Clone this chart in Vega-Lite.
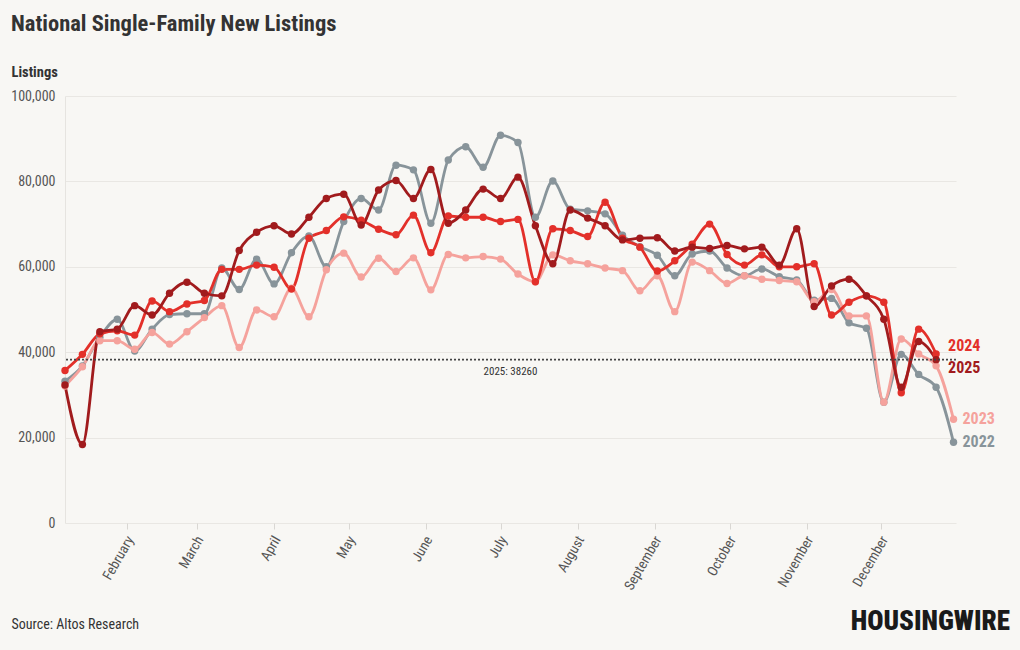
{
  "$schema": "https://vega.github.io/schema/vega-lite/v6.json",
  "width": 891,
  "height": 427,
  "autosize": {"type": "none"},
  "padding": {"left": 65, "top": 96, "right": 64, "bottom": 127},
  "background": "#f8f7f4",
  "title": {
    "text": "National Single-Family New Listings",
    "anchor": "start",
    "frame": "group",
    "dx": -54,
    "offset": 29,
    "fontSize": 22.5,
    "fontWeight": "bold",
    "color": "#333333"
  },
  "config": {
    "font": "Roboto Condensed, Liberation Sans Narrow, DejaVu Sans Condensed, Roboto, sans-serif",
    "view": {"stroke": null}
  },
  "data": {
    "values": [
      {"year":"2022","week":"2025-01-07","listings":33200},{"year":"2022","week":"2025-01-14","listings":36800},{"year":"2022","week":"2025-01-21","listings":43500},{"year":"2022","week":"2025-01-28","listings":47700},{"year":"2022","week":"2025-02-04","listings":40300},{"year":"2022","week":"2025-02-11","listings":45400},{"year":"2022","week":"2025-02-18","listings":48800},{"year":"2022","week":"2025-02-25","listings":49000},{"year":"2022","week":"2025-03-04","listings":49000},{"year":"2022","week":"2025-03-11","listings":59700},{"year":"2022","week":"2025-03-18","listings":54700},{"year":"2022","week":"2025-03-25","listings":61800},{"year":"2022","week":"2025-04-01","listings":56000},{"year":"2022","week":"2025-04-08","listings":63300},{"year":"2022","week":"2025-04-15","listings":67200},{"year":"2022","week":"2025-04-22","listings":60000},{"year":"2022","week":"2025-04-29","listings":70600},{"year":"2022","week":"2025-05-06","listings":76000},{"year":"2022","week":"2025-05-13","listings":73300},{"year":"2022","week":"2025-05-20","listings":83800},{"year":"2022","week":"2025-05-27","listings":82700},{"year":"2022","week":"2025-06-03","listings":70200},{"year":"2022","week":"2025-06-10","listings":85000},{"year":"2022","week":"2025-06-17","listings":88100},{"year":"2022","week":"2025-06-24","listings":83300},{"year":"2022","week":"2025-07-01","listings":90800},{"year":"2022","week":"2025-07-08","listings":89100},{"year":"2022","week":"2025-07-15","listings":71600},{"year":"2022","week":"2025-07-22","listings":80100},{"year":"2022","week":"2025-07-29","listings":73500},{"year":"2022","week":"2025-08-05","listings":73100},{"year":"2022","week":"2025-08-12","listings":72400},{"year":"2022","week":"2025-08-19","listings":67400},{"year":"2022","week":"2025-08-26","listings":64700},{"year":"2022","week":"2025-09-02","listings":62700},{"year":"2022","week":"2025-09-09","listings":57900},{"year":"2022","week":"2025-09-16","listings":63000},{"year":"2022","week":"2025-09-23","listings":63700},{"year":"2022","week":"2025-09-30","listings":59700},{"year":"2022","week":"2025-10-07","listings":57900},{"year":"2022","week":"2025-10-14","listings":59500},{"year":"2022","week":"2025-10-21","listings":57700},{"year":"2022","week":"2025-10-28","listings":56900},{"year":"2022","week":"2025-11-04","listings":52200},{"year":"2022","week":"2025-11-11","listings":52600},{"year":"2022","week":"2025-11-18","listings":46900},{"year":"2022","week":"2025-11-25","listings":45600},{"year":"2022","week":"2025-12-02","listings":28300},{"year":"2022","week":"2025-12-09","listings":39500},{"year":"2022","week":"2025-12-16","listings":34800},{"year":"2022","week":"2025-12-23","listings":31800},{"year":"2022","week":"2025-12-30","listings":18900},
      {"year":"2023","week":"2025-01-07","listings":32100},{"year":"2023","week":"2025-01-14","listings":36600},{"year":"2023","week":"2025-01-21","listings":42700},{"year":"2023","week":"2025-01-28","listings":42700},{"year":"2023","week":"2025-02-04","listings":40700},{"year":"2023","week":"2025-02-11","listings":44600},{"year":"2023","week":"2025-02-18","listings":41900},{"year":"2023","week":"2025-02-25","listings":44800},{"year":"2023","week":"2025-03-04","listings":48100},{"year":"2023","week":"2025-03-11","listings":50900},{"year":"2023","week":"2025-03-18","listings":41100},{"year":"2023","week":"2025-03-25","listings":49900},{"year":"2023","week":"2025-04-01","listings":48300},{"year":"2023","week":"2025-04-08","listings":55000},{"year":"2023","week":"2025-04-15","listings":48300},{"year":"2023","week":"2025-04-22","listings":59300},{"year":"2023","week":"2025-04-29","listings":63200},{"year":"2023","week":"2025-05-06","listings":57600},{"year":"2023","week":"2025-05-13","listings":62000},{"year":"2023","week":"2025-05-20","listings":58900},{"year":"2023","week":"2025-05-27","listings":62100},{"year":"2023","week":"2025-06-03","listings":54600},{"year":"2023","week":"2025-06-10","listings":62900},{"year":"2023","week":"2025-06-17","listings":62100},{"year":"2023","week":"2025-06-24","listings":62400},{"year":"2023","week":"2025-07-01","listings":61800},{"year":"2023","week":"2025-07-08","listings":58300},{"year":"2023","week":"2025-07-15","listings":56500},{"year":"2023","week":"2025-07-22","listings":62800},{"year":"2023","week":"2025-07-29","listings":61400},{"year":"2023","week":"2025-08-05","listings":60700},{"year":"2023","week":"2025-08-12","listings":59700},{"year":"2023","week":"2025-08-19","listings":59100},{"year":"2023","week":"2025-08-26","listings":54400},{"year":"2023","week":"2025-09-02","listings":57900},{"year":"2023","week":"2025-09-09","listings":49500},{"year":"2023","week":"2025-09-16","listings":61100},{"year":"2023","week":"2025-09-23","listings":59100},{"year":"2023","week":"2025-09-30","listings":56100},{"year":"2023","week":"2025-10-07","listings":57900},{"year":"2023","week":"2025-10-14","listings":57100},{"year":"2023","week":"2025-10-21","listings":56800},{"year":"2023","week":"2025-10-28","listings":56500},{"year":"2023","week":"2025-11-04","listings":51800},{"year":"2023","week":"2025-11-11","listings":54700},{"year":"2023","week":"2025-11-18","listings":48500},{"year":"2023","week":"2025-11-25","listings":48500},{"year":"2023","week":"2025-12-02","listings":28300},{"year":"2023","week":"2025-12-09","listings":43100},{"year":"2023","week":"2025-12-16","listings":39600},{"year":"2023","week":"2025-12-23","listings":36800},{"year":"2023","week":"2025-12-30","listings":24300},
      {"year":"2024","week":"2025-01-07","listings":35700},{"year":"2024","week":"2025-01-14","listings":39500},{"year":"2024","week":"2025-01-21","listings":44300},{"year":"2024","week":"2025-01-28","listings":45000},{"year":"2024","week":"2025-02-04","listings":44000},{"year":"2024","week":"2025-02-11","listings":52000},{"year":"2024","week":"2025-02-18","listings":49500},{"year":"2024","week":"2025-02-25","listings":51300},{"year":"2024","week":"2025-03-04","listings":52100},{"year":"2024","week":"2025-03-11","listings":59400},{"year":"2024","week":"2025-03-18","listings":59400},{"year":"2024","week":"2025-03-25","listings":60400},{"year":"2024","week":"2025-04-01","listings":59900},{"year":"2024","week":"2025-04-08","listings":54800},{"year":"2024","week":"2025-04-15","listings":66700},{"year":"2024","week":"2025-04-22","listings":68500},{"year":"2024","week":"2025-04-29","listings":71700},{"year":"2024","week":"2025-05-06","listings":70900},{"year":"2024","week":"2025-05-13","listings":68800},{"year":"2024","week":"2025-05-20","listings":67500},{"year":"2024","week":"2025-05-27","listings":72100},{"year":"2024","week":"2025-06-03","listings":63300},{"year":"2024","week":"2025-06-10","listings":71900},{"year":"2024","week":"2025-06-17","listings":71600},{"year":"2024","week":"2025-06-24","listings":71600},{"year":"2024","week":"2025-07-01","listings":70600},{"year":"2024","week":"2025-07-08","listings":71100},{"year":"2024","week":"2025-07-15","listings":56500},{"year":"2024","week":"2025-07-22","listings":68900},{"year":"2024","week":"2025-07-29","listings":68500},{"year":"2024","week":"2025-08-05","listings":67100},{"year":"2024","week":"2025-08-12","listings":75100},{"year":"2024","week":"2025-08-19","listings":66700},{"year":"2024","week":"2025-08-26","listings":64600},{"year":"2024","week":"2025-09-02","listings":59000},{"year":"2024","week":"2025-09-09","listings":61400},{"year":"2024","week":"2025-09-16","listings":65300},{"year":"2024","week":"2025-09-23","listings":70000},{"year":"2024","week":"2025-09-30","listings":62900},{"year":"2024","week":"2025-10-07","listings":60400},{"year":"2024","week":"2025-10-14","listings":62800},{"year":"2024","week":"2025-10-21","listings":60000},{"year":"2024","week":"2025-10-28","listings":60000},{"year":"2024","week":"2025-11-04","listings":60700},{"year":"2024","week":"2025-11-11","listings":48700},{"year":"2024","week":"2025-11-18","listings":51700},{"year":"2024","week":"2025-11-25","listings":53200},{"year":"2024","week":"2025-12-02","listings":51700},{"year":"2024","week":"2025-12-09","listings":30500},{"year":"2024","week":"2025-12-16","listings":45400},{"year":"2024","week":"2025-12-23","listings":39600},
      {"year":"2025","week":"2025-01-07","listings":32300},{"year":"2025","week":"2025-01-14","listings":18400},{"year":"2025","week":"2025-01-21","listings":44800},{"year":"2025","week":"2025-01-28","listings":45400},{"year":"2025","week":"2025-02-04","listings":50900},{"year":"2025","week":"2025-02-11","listings":48700},{"year":"2025","week":"2025-02-18","listings":53800},{"year":"2025","week":"2025-02-25","listings":56400},{"year":"2025","week":"2025-03-04","listings":53800},{"year":"2025","week":"2025-03-11","listings":53200},{"year":"2025","week":"2025-03-18","listings":63800},{"year":"2025","week":"2025-03-25","listings":68100},{"year":"2025","week":"2025-04-01","listings":69600},{"year":"2025","week":"2025-04-08","listings":67700},{"year":"2025","week":"2025-04-15","listings":71600},{"year":"2025","week":"2025-04-22","listings":76000},{"year":"2025","week":"2025-04-29","listings":77000},{"year":"2025","week":"2025-05-06","listings":69800},{"year":"2025","week":"2025-05-13","listings":78000},{"year":"2025","week":"2025-05-20","listings":80200},{"year":"2025","week":"2025-05-27","listings":76000},{"year":"2025","week":"2025-06-03","listings":82800},{"year":"2025","week":"2025-06-10","listings":70200},{"year":"2025","week":"2025-06-17","listings":73300},{"year":"2025","week":"2025-06-24","listings":78200},{"year":"2025","week":"2025-07-01","listings":76000},{"year":"2025","week":"2025-07-08","listings":81000},{"year":"2025","week":"2025-07-15","listings":69600},{"year":"2025","week":"2025-07-22","listings":60700},{"year":"2025","week":"2025-07-29","listings":73300},{"year":"2025","week":"2025-08-05","listings":71400},{"year":"2025","week":"2025-08-12","listings":69600},{"year":"2025","week":"2025-08-19","listings":66300},{"year":"2025","week":"2025-08-26","listings":66700},{"year":"2025","week":"2025-09-02","listings":66800},{"year":"2025","week":"2025-09-09","listings":63700},{"year":"2025","week":"2025-09-16","listings":64600},{"year":"2025","week":"2025-09-23","listings":64300},{"year":"2025","week":"2025-09-30","listings":65000},{"year":"2025","week":"2025-10-07","listings":64200},{"year":"2025","week":"2025-10-14","listings":64600},{"year":"2025","week":"2025-10-21","listings":60400},{"year":"2025","week":"2025-10-28","listings":68900},{"year":"2025","week":"2025-11-04","listings":50700},{"year":"2025","week":"2025-11-11","listings":55500},{"year":"2025","week":"2025-11-18","listings":57100},{"year":"2025","week":"2025-11-25","listings":53200},{"year":"2025","week":"2025-12-02","listings":47700},{"year":"2025","week":"2025-12-09","listings":31800},{"year":"2025","week":"2025-12-16","listings":42500},{"year":"2025","week":"2025-12-23","listings":38260}
    ],
    "format": {"parse": {"week": "utc:'%Y-%m-%d'"}}
  },
  "encoding": {
    "x": {
      "field": "week",
      "type": "temporal",
      "scale": {
        "type": "utc",
        "domain": [{"year": 2025, "month": 1, "date": 7, "utc": true}, {"year": 2025, "month": 12, "date": 31, "utc": true}]
      },
      "axis": {
        "values": [
          {"year": 2025, "month": 2, "date": 1, "utc": true},
          {"year": 2025, "month": 3, "date": 1, "utc": true},
          {"year": 2025, "month": 4, "date": 1, "utc": true},
          {"year": 2025, "month": 5, "date": 1, "utc": true},
          {"year": 2025, "month": 6, "date": 1, "utc": true},
          {"year": 2025, "month": 7, "date": 1, "utc": true},
          {"year": 2025, "month": 8, "date": 1, "utc": true},
          {"year": 2025, "month": 9, "date": 1, "utc": true},
          {"year": 2025, "month": 10, "date": 1, "utc": true},
          {"year": 2025, "month": 11, "date": 1, "utc": true},
          {"year": 2025, "month": 12, "date": 1, "utc": true}
        ],
        "labelExpr": "utcFormat(datum.value, '%B')",
        "labelAngle": -60,
        "labelFontSize": 14,
        "labelColor": "#555555",
        "labelPadding": 8,
        "labelOffset": 3,
        "ticks": true,
        "tickColor": "#d9d7d3",
        "tickSize": 6,
        "domain": false,
        "grid": false,
        "title": "Source: Altos Research",
        "titleFontWeight": "normal",
        "titleFontSize": 14,
        "titleColor": "#333333",
        "titleAlign": "left",
        "titleBaseline": "middle",
        "titleX": -54,
        "titleY": 101
      }
    },
    "y": {
      "field": "listings",
      "type": "quantitative",
      "scale": {"domain": [0, 100000], "nice": false},
      "axis": {
        "values": [0, 20000, 40000, 60000, 80000, 100000],
        "format": ",d",
        "labelFontSize": 14,
        "labelColor": "#555555",
        "labelPadding": 10,
        "ticks": false,
        "domain": true,
        "domainColor": "#e6e4e0",
        "gridColor": "#e9e7e3",
        "title": "Listings",
        "titleAngle": 0,
        "titleAlign": "left",
        "titleBaseline": "alphabetic",
        "titleX": -54,
        "titleY": -20,
        "titleFontSize": 14.5,
        "titleFontWeight": "bold",
        "titleColor": "#333333"
      }
    },
    "color": {
      "field": "year",
      "type": "nominal",
      "scale": {"domain": ["2022", "2023", "2024", "2025"], "range": ["#88949a", "#f5a29c", "#e3302a", "#a11b1d"]},
      "legend": null
    }
  },
  "layer": [
    {
      "mark": {"type": "line", "interpolate": "monotone", "strokeWidth": 2.8}
    },
    {
      "mark": {"type": "point", "filled": true, "opacity": 1, "size": 55}
    },
    {
      "data": {"values": [{"year": "2025", "listings": 38260}]},
      "mark": {"type": "rule", "strokeDash": [2, 2], "strokeWidth": 1.6, "color": "#444444"},
      "encoding": {"x": null, "color": null, "y": {"field": "listings", "type": "quantitative"}}
    },
    {
      "data": {"values": [{"year": "2025", "listings": 38260, "label": "2025: 38260"}]},
      "mark": {"type": "text", "fontSize": 11, "color": "#333333", "baseline": "top", "dy": 6, "x": {"expr": "width / 2"}},
      "encoding": {
        "x": null,
        "color": null,
        "y": {"field": "listings", "type": "quantitative"},
        "text": {"field": "label"}
      }
    },
    {
      "transform": [
        {"joinaggregate": [{"op": "max", "field": "week", "as": "lastWeek"}], "groupby": ["year"]},
        {"filter": "time(datum.week) == time(datum.lastWeek) && (datum.year == '2022' || datum.year == '2023')"}
      ],
      "mark": {"type": "text", "align": "left", "baseline": "middle", "dx": 9, "fontSize": 16, "fontWeight": "bold"},
      "encoding": {"text": {"field": "year"}}
    },
    {
      "transform": [
        {"joinaggregate": [{"op": "max", "field": "week", "as": "lastWeek"}], "groupby": ["year"]},
        {"filter": "time(datum.week) == time(datum.lastWeek) && datum.year == '2024'"}
      ],
      "mark": {"type": "text", "align": "left", "baseline": "middle", "dx": 12, "dy": -8, "fontSize": 16, "fontWeight": "bold"},
      "encoding": {"text": {"field": "year"}}
    },
    {
      "transform": [
        {"joinaggregate": [{"op": "max", "field": "week", "as": "lastWeek"}], "groupby": ["year"]},
        {"filter": "time(datum.week) == time(datum.lastWeek) && datum.year == '2025'"}
      ],
      "mark": {"type": "text", "align": "left", "baseline": "middle", "dx": 12, "dy": 8, "fontSize": 16, "fontWeight": "bold"},
      "encoding": {"text": {"field": "year"}}
    },
    {
      "data": {"values": [{"source": "Altos Research"}]},
      "mark": {"type": "rule", "color": "#333333", "strokeWidth": 1, "clip": false, "x": {"expr": "-9"}, "x2": {"expr": "73"}, "y": {"expr": "height + 110"}, "y2": {"expr": "height + 110"}},
      "encoding": {}
    },
    {
      "data": {"values": [{"brand": "HOUSINGWIRE"}]},
      "mark": {"type": "text", "align": "right", "baseline": "middle", "x": {"expr": "width + 54"}, "y": {"expr": "height + 99"}, "fontSize": 27, "fontWeight": 900, "color": "#1a1a1a", "font": "Roboto Condensed, Roboto, sans-serif", "letterSpacing": -0.5},
      "encoding": {"x": null, "y": null, "color": null, "text": {"field": "brand"}}
    }
  ]
}
